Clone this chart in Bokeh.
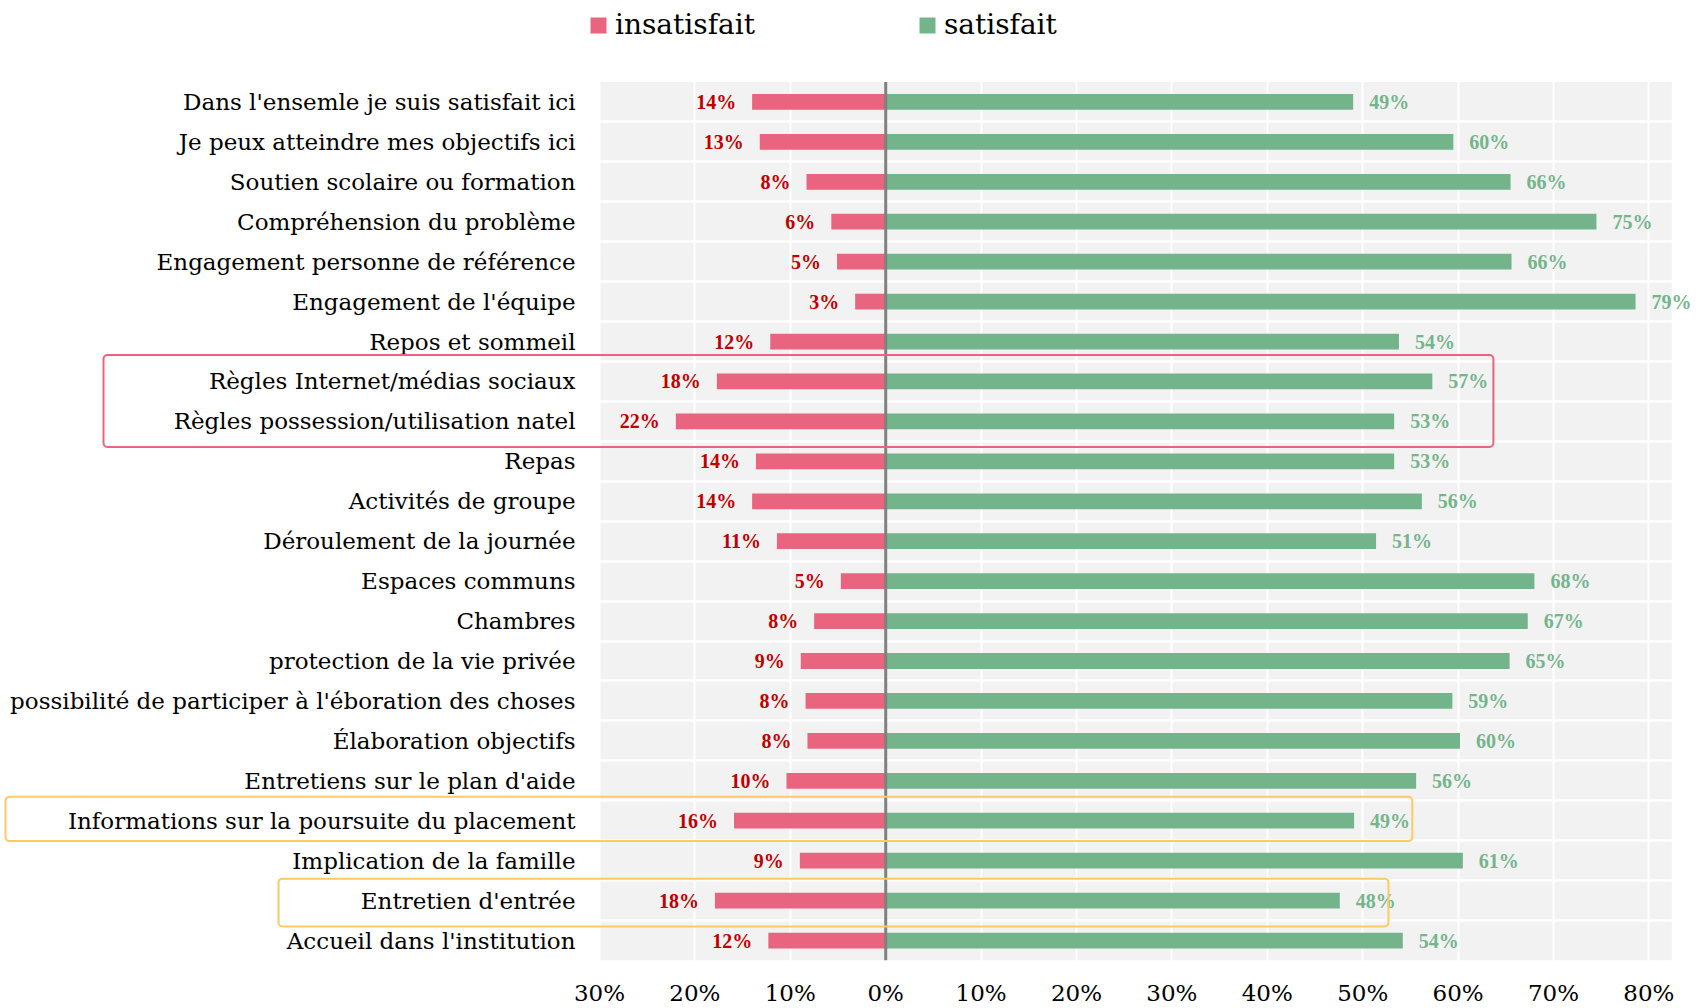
from bokeh.plotting import figure
from bokeh.models import (ColumnDataSource, LabelSet, FixedTicker, Legend,
                          LegendItem, BoxAnnotation)
from bokeh.core.properties import value
from bokeh.embed import file_html
from bokeh.resources import INLINE

categories = [
    "Dans l'ensemle je suis satisfait ici",
    "Je peux atteindre mes objectifs ici",
    "Soutien scolaire ou formation",
    "Compréhension du problème",
    "Engagement personne de référence",
    "Engagement de l'équipe",
    "Repos et sommeil",
    "Règles Internet/médias sociaux",
    "Règles possession/utilisation natel",
    "Repas",
    "Activités de groupe",
    "Déroulement de la journée",
    "Espaces communs",
    "Chambres",
    "protection de la vie privée",
    "possibilité de participer à l'éboration des choses",
    "Élaboration objectifs",
    "Entretiens sur le plan d'aide",
    "Informations sur la poursuite du placement",
    "Implication de la famille",
    "Entretien d'entrée",
    "Accueil dans l'institution",
]
# percentages (labels show them rounded)
insatisfait = [14.0, 13.2, 8.3, 5.7, 5.1, 3.2, 12.1, 17.7, 22.0, 13.6, 14.0,
               11.4, 4.7, 7.5, 8.9, 8.4, 8.2, 10.4, 15.9, 9.0, 17.9, 12.3]
satisfait = [49.0, 59.5, 65.5, 74.5, 65.6, 78.6, 53.8, 57.3, 53.3, 53.3, 56.2,
             51.4, 68.0, 67.3, 65.4, 59.4, 60.2, 55.6, 49.1, 60.5, 47.6, 54.2]
x_ticks = [-30, -20, -10, 0, 10, 20, 30, 40, 50, 60, 70, 80]
x_tick_labels = ["30%", "20%", "10%", "0%", "10%", "20%", "30%", "40%", "50%", "60%", "70%", "80%"]

PINK = "#e8647f"
GREEN = "#73b48b"
RED_TXT = "#c00000"
GREEN_TXT = "#74b58c"
ORANGE = "#ffc966"
FONT = "DejaVu Serif"

n = len(categories)
ypos = [n - 1 - i for i in range(n)]

# panel extent in data units (percent / row index)
X_MIN, X_MAX = -30, 82.4
Y_MIN, Y_MAX = -0.5, n - 0.5


def pct(v):
    return f"{int(v + 0.5)}%"


src = ColumnDataSource(dict(
    y=ypos,
    cat=categories,
    ins_neg=[-v for v in insatisfait],
    sat=satisfait,
    ins_lbl=[pct(v) for v in insatisfait],
    sat_lbl=[pct(v) for v in satisfait],
))

p = figure(width=1696, height=1008, x_range=(-92.79, 84.99), y_range=(Y_MIN, 23.54),
           output_backend="svg", toolbar_location=None,
           min_border_left=0, min_border_right=0, min_border_top=0, min_border_bottom=47)
p.background_fill_color = "white"
p.border_fill_color = "white"
p.outline_line_color = None

# grey panel behind the grid
p.quad(left=[X_MIN], right=[X_MAX], bottom=[Y_MIN], top=[Y_MAX],
       fill_color="#f2f2f2", line_color=None, level="image")

r_ins = p.hbar(y="y", left="ins_neg", right=0, height=0.395, fill_color=PINK,
               line_color=None, source=src)
r_sat = p.hbar(y="y", left=0, right="sat", height=0.395, fill_color=GREEN,
               line_color=None, source=src)

# zero line
p.segment(x0=[0], x1=[0], y0=[Y_MIN], y1=[Y_MAX], line_color="#808080", line_width=3)

# category labels
p.text(x=X_MIN, y="y", text="cat", source=src, x_offset=-24,
       text_align="right", text_baseline="middle", text_color="black",
       text_font=value(FONT), text_font_size="23px")

p.add_layout(LabelSet(x="ins_neg", y="y", text="ins_lbl", source=src, x_offset=-16,
                      text_align="right", text_baseline="middle", text_color=RED_TXT,
                      text_font=FONT, text_font_size="20px", text_font_style="bold"))
p.add_layout(LabelSet(x="sat", y="y", text="sat_lbl", source=src, x_offset=16,
                      text_align="left", text_baseline="middle", text_color=GREEN_TXT,
                      text_font=FONT, text_font_size="20px", text_font_style="bold"))

# axes
p.yaxis.visible = False
p.xaxis.ticker = FixedTicker(ticks=x_ticks)
p.xaxis.major_label_overrides = {t: l for t, l in zip(x_ticks, x_tick_labels)}
p.xaxis.axis_line_color = None
p.xaxis.major_tick_line_color = None
p.xaxis.minor_tick_line_color = None
p.xaxis.major_tick_out = 0
p.xaxis.major_tick_in = 0
p.xaxis.major_label_text_font = FONT
p.xaxis.major_label_text_color = "black"
p.xaxis.major_label_text_font_size = "23px"
p.xaxis.major_label_standoff = 19

p.xgrid.grid_line_color = "white"
p.xgrid.grid_line_width = 2
p.ygrid.ticker = FixedTicker(ticks=[k + 0.5 for k in range(n - 1)])
p.ygrid.grid_line_color = "white"
p.ygrid.grid_line_width = 2.5

# legend
legend = Legend(items=[LegendItem(label="insatisfait", renderers=[r_ins]),
                       LegendItem(label="satisfait", renderers=[r_sat])],
                orientation="horizontal", location=(588, 919),
                label_text_font=FONT, label_text_font_size="28px",
                label_text_color="black",
                glyph_width=20, glyph_height=20, label_standoff=7, spacing=162,
                margin=0, padding=0, border_line_color=None,
                background_fill_alpha=0)
p.add_layout(legend)

# highlight boxes
def box(top_row, bottom_row, top_pad, bottom_pad, left_px, right_val, color):
    return BoxAnnotation(left=left_px, left_units="canvas",
                         right=right_val,
                         top=(n - 1 - top_row) + top_pad,
                         bottom=(n - 1 - bottom_row) - bottom_pad,
                         fill_alpha=0, line_color=color, line_alpha=1, line_width=2,
                         border_radius=4, level="overlay")

p.add_layout(box(7, 8, 0.66, 0.64, 103, 63.7, PINK))
p.add_layout(box(18, 18, 0.6, 0.51, 5, 55.2, ORANGE))
p.add_layout(box(20, 20, 0.55, 0.65, 278, 52.7, ORANGE))

open("out.html", "w").write(file_html(p, INLINE))
